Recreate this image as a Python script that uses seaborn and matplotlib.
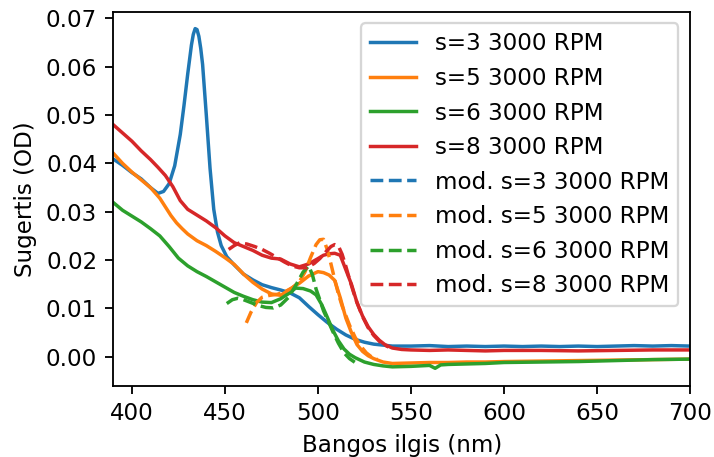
import matplotlib
matplotlib.use("Agg")
import matplotlib.pyplot as plt
import seaborn as sns
import pandas as pd

# ---- data ----
x_s3 = [390, 395, 400, 405, 410, 414, 417, 420, 423, 426, 428, 430, 432, 433, 434, 435, 436, 437, 438, 440,
        442, 444, 446, 448, 451, 455, 460, 465, 470, 475, 480, 485, 490, 495, 500, 505, 510, 515, 520, 525,
        530, 535, 540, 550, 560, 570, 580, 590, 600, 610, 620, 630, 640, 650, 660, 670, 680, 690, 700]
y_s3 = [.0409, .0396, .0381, .0368, .0350, .0338, .0342, .0358, .0395, .0460, .0520, .0585, .0645, .0667, .0679,
        .0677, .0663, .0638, .0605, .0500, .0390, .0305, .0258, .0230, .0207, .0190, .0171, .0159, .0149, .0143,
        .0138, .0132, .0122, .0104, .0087, .0071, .0057, .0045, .0036, .0030, .0026, .0024, .0022, .0022, .0023,
        .0021, .0022, .0021, .0022, .0021, .0022, .0021, .0022, .0021, .0022, .0023, .0022, .0023, .0022]

x_s5 = [390, 395, 400, 405, 410, 415, 418, 421, 424, 427, 430, 435, 440, 445, 450, 455, 460, 465, 470, 475,
        480, 485, 490, 495, 500, 503, 506, 509, 512, 515, 518, 521, 524, 527, 530, 535, 540, 550, 560, 570,
        580, 590, 600, 620, 640, 660, 680, 700]
y_s5 = [.0421, .0400, .0382, .0366, .0350, .0328, .0310, .0292, .0277, .0265, .0254, .0240, .0230, .0218, .0205,
        .0191, .0171, .0154, .0140, .0130, .0127, .0140, .0152, .0167, .0176, .0174, .0169, .0158, .0122, .0080,
        .0050, .0025, .0011, .0002, -.0004, -.0011, -.0014, -.0013, -.0012, -.0012, -.0011, -.0011, -.0010,
        -.0009, -.0008, -.0007, -.0006, -.0005]

x_s6 = [390, 395, 400, 405, 410, 415, 420, 425, 430, 435, 440, 445, 450, 455, 460, 465, 470, 475, 480, 484,
        488, 492, 496, 499, 502, 505, 508, 511, 514, 517, 520, 525, 530, 535, 540, 550, 560, 563, 566, 570,
        580, 590, 600, 620, 640, 660, 680, 700]
y_s6 = [.0319, .0303, .0291, .0279, .0265, .0250, .0228, .0204, .0188, .0176, .0166, .0155, .0144, .0133, .0125,
        .0118, .0113, .0112, .0120, .0130, .0142, .0141, .0136, .0128, .0108, .0082, .0055, .0033, .0016, .0005,
        -.0002, -.0011, -.0016, -.0019, -.0021, -.0020, -.0018, -.0024, -.0017, -.0016, -.0015, -.0014, -.0012,
        -.0011, -.0010, -.0008, -.0006, -.0005]

x_s8 = [390, 395, 400, 405, 410, 414, 418, 422, 426, 430, 435, 440, 445, 450, 455, 460, 465, 470, 475, 480,
        485, 490, 495, 500, 503, 506, 509, 512, 515, 518, 521, 524, 527, 530, 533, 536, 540, 545, 550, 560,
        570, 580, 590, 600, 620, 640, 660, 680, 700]
y_s8 = [.0480, .0463, .0446, .0426, .0408, .0392, .0375, .0352, .0323, .0305, .0293, .0281, .0267, .0250, .0236,
        .0228, .0220, .0210, .0204, .0202, .0192, .0186, .0192, .0203, .0210, .0213, .0214, .0210, .0180, .0150,
        .0112, .0084, .0062, .0046, .0034, .0025, .0018, .0015, .0014, .0013, .0014, .0013, .0012, .0013, .0013,
        .0012, .0013, .0014, .0014]

x_m3 = []
y_m3 = []

x_m5 = [461.5, 464, 467, 470, 474, 478, 482, 486, 490, 493, 496, 499, 501, 503, 505, 507, 509, 511, 513, 515,
        517, 520, 523, 526, 529, 532]
y_m5 = [.0070, .0092, .0112, .0123, .0127, .0129, .0134, .0142, .0155, .0175, .0205, .0232, .0242, .0243, .0222,
        .0192, .0160, .0130, .0105, .0085, .0065, .0040, .0022, .0008, -.0001, -.0006]

x_m6 = [451, 454, 457, 460, 464, 468, 472, 476, 480, 484, 488, 492, 495, 497, 499, 501, 503, 505, 508, 511,
        514, 517, 520]
y_m6 = [.0110, .0118, .0121, .0118, .0112, .0106, .0102, .0101, .0107, .0122, .0147, .0175, .0188, .0170, .0140,
        .0118, .0095, .0078, .0052, .0028, .0008, -.0004, -.0012]

x_m8 = [452, 455, 458, 462, 466, 470, 474, 478, 482, 486, 490, 494, 498, 501, 504, 507, 509, 511, 513, 515,
        517, 519, 521, 524, 527, 530, 534, 538]
y_m8 = [.0222, .0230, .0236, .0233, .0228, .0222, .0214, .0205, .0196, .0188, .0184, .0184, .0193, .0203, .0216,
        .0228, .0232, .0229, .0212, .0187, .0160, .0135, .0112, .0083, .0060, .0044, .0028, .0020]

labels_meas = ["s=3 3000 RPM", "s=5 3000 RPM", "s=6 3000 RPM", "s=8 3000 RPM"]
labels_mod = ["mod. s=3 3000 RPM", "mod. s=5 3000 RPM", "mod. s=6 3000 RPM", "mod. s=8 3000 RPM"]
colors = ["#1f77b4", "#ff7f0e", "#2ca02c", "#d62728"]

meas = [(x_s3, y_s3), (x_s5, y_s5), (x_s6, y_s6), (x_s8, y_s8)]
mods = [(x_m3, y_m3), (x_m5, y_m5), (x_m6, y_m6), (x_m8, y_m8)]

# ---- plot ----
sns.set_style("ticks")
plt.rcParams.update(plt.rcParamsDefault)
plt.rcParams["font.family"] = ["DejaVu Sans"]

DPI = 166
fig = plt.figure(figsize=(714 / DPI, 457 / DPI), dpi=DPI)
ax = fig.add_axes([113.3 / 714, 1 - 385.7 / 457, (690 - 113.3) / 714, (385.7 - 11.7) / 457])

for (xs, ys), lab, c in zip(meas, labels_meas, colors):
    df = pd.DataFrame({"x": xs, "y": ys})
    sns.lineplot(data=df, x="x", y="y", ax=ax, color=c, lw=1.5, label=lab)

for (xs, ys), lab, c in zip(mods, labels_mod, colors):
    if len(xs) == 0:
        ax.plot(xs, ys, color=c, lw=1.5, ls="--", label=lab)
    else:
        df = pd.DataFrame({"x": xs, "y": ys})
        sns.lineplot(data=df, x="x", y="y", ax=ax, color=c, lw=1.5, ls="--", label=lab)

ax.set_xlim(390, 700)
ax.set_ylim(-0.006, 0.0714)
ax.set_xticks([400, 450, 500, 550, 600, 650, 700])
ax.set_yticks([0.00, 0.01, 0.02, 0.03, 0.04, 0.05, 0.06, 0.07])
ax.set_xlabel("Bangos ilgis (nm)")
ax.set_ylabel("Sugertis (OD)")
ax.legend(loc="upper right")

fig.savefig("out.png", dpi=DPI)
